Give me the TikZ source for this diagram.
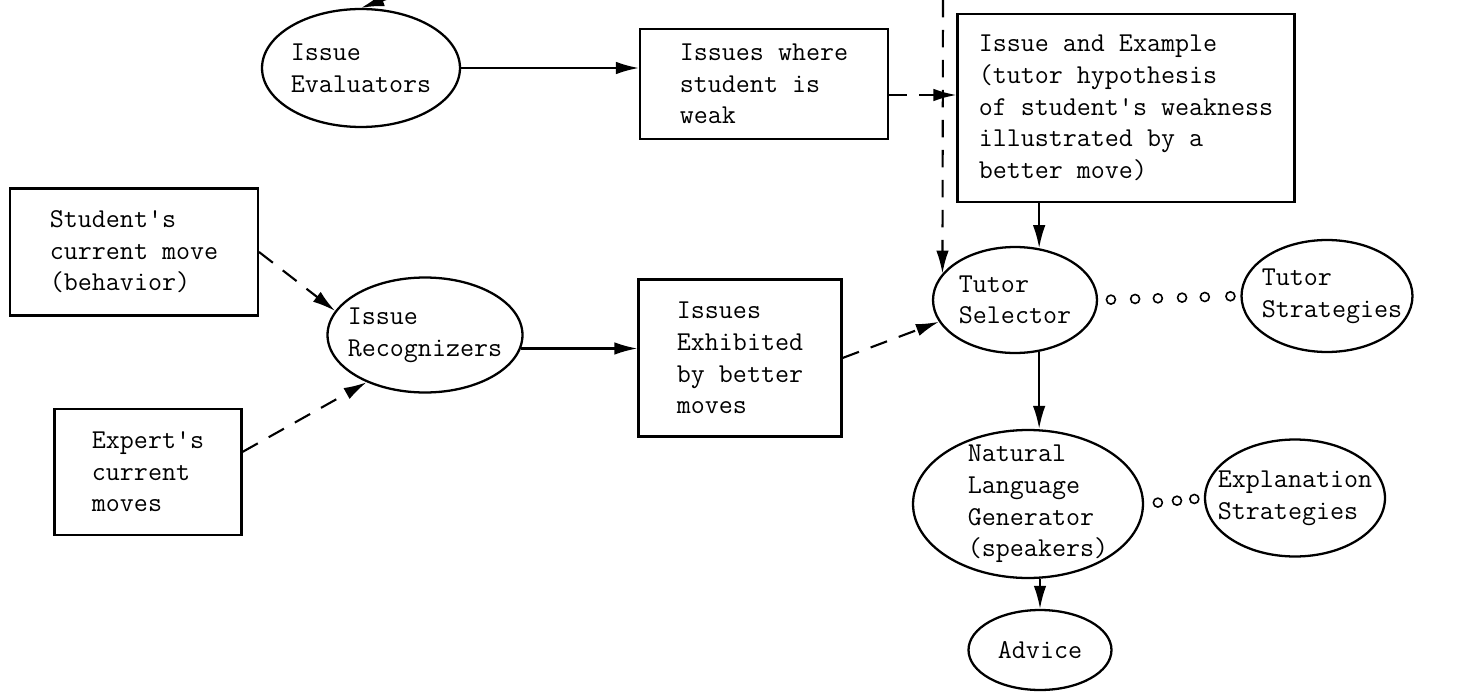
\documentclass[tikz,border=0pt]{standalone}
\usepackage{fontspec}
\usepackage{tikz}
\usetikzlibrary{shapes.geometric}
\usetikzlibrary{arrows.meta}

\tikzset{
  >={Latex[length=4.6mm,width=2.5mm]},
  issuebox/.style={draw, rectangle, line width=1.2pt, align=left, font=\ttfamily\fontsize{15.5}{18}\selectfont},
  procell/.style={draw, ellipse, line width=1.3pt},
  celltext/.style={align=left, font=\ttfamily\fontsize{15.5}{18}\selectfont},
  ring/.style={draw, circle, line width=0.9pt, inner sep=0pt, minimum size=1.8mm},
  flow/.style={line width=1.2pt, ->},
  dashflow/.style={line width=1.2pt, ->, dash pattern=on 3.5mm off 2.5mm},
}

\begin{document}
\begin{tikzpicture}[x=0.02cm, y=-0.02cm]
\useasboundingbox (0,0) rectangle (1474,696);

% inputs on the left
\node[issuebox, minimum width=4.96cm, minimum height=2.54cm] (stud) at (134,252) {Student's\\current move\\(behavior)};
\node[issuebox, minimum width=3.74cm, minimum height=2.52cm] (expt) at (148,472) {Expert's\\current\\moves};

% issue modules
\node[procell, minimum width=3.96cm, minimum height=2.36cm, label={[celltext]center:{Issue\\Evaluators}}] (eval) at (361,68) {};
\node[procell, minimum width=3.9cm, minimum height=2.3cm, label={[celltext]center:{Issue\\Recognizers}}] (recog) at (425,335) {};

\node[issuebox, minimum width=4.96cm, minimum height=2.2cm] (weak) at (764,84) {Issues where\\student is\\weak};
\node[issuebox, minimum width=4.06cm, minimum height=3.14cm] (exhib) at (740,358) {Issues\\Exhibited\\by better\\moves};
\node[issuebox, minimum width=6.74cm, minimum height=3.76cm] (ex) at (1126,108) {Issue and Example\\(tutor hypothesis\\of student's weakness\\illustrated by a\\better move)};

% tutor side
\node[procell, minimum width=3.28cm, minimum height=2.12cm, label={[celltext]center:{Tutor\\Selector}}] (sel) at (1015,300) {};
\node[procell, minimum width=3.42cm, minimum height=2.24cm, label={[celltext, xshift=0.1cm]center:{Tutor\\Strategies}}] (tstrat) at (1327,296) {};
\node[procell, minimum width=4.6cm, minimum height=2.96cm, label={[celltext, xshift=0.2cm]center:{Natural\\Language\\Generator\\(speakers)}}] (nlg) at (1028,504) {};
\node[procell, minimum width=3.6cm, minimum height=2.34cm, label={[celltext]center:{Explanation\\Strategies}}] (xstrat) at (1295,498) {};
\node[procell, minimum width=2.86cm, minimum height=1.6cm, label={[celltext]center:{Advice}}] (adv) at (1040,650) {};

\coordinate (evalin) at (392,-3);
\coordinate (dashtop) at (943,0);

\draw[flow] (evalin) -- (eval.north);
\draw[flow] (eval.east) -- (eval.east -| weak.west);
\draw[dashflow] ([yshift=-0.22cm]weak.east) -- ([yshift=-0.22cm]weak.east -| ex.west);
\draw[dashflow] (dashtop) -- (sel.160);
\draw[flow] (ex.south -| sel.65) -- (sel.65);
\draw[dashflow] (stud.east) -- (recog.165);
\draw[dashflow] (expt.12) -- (recog.219);
\draw[flow] (recog.-8) -- (recog.-8 -| exhib.west);
\draw[dashflow] (exhib.east) -- (sel.196);
\draw[flow] (sel.-65) -- (sel.-65 |- nlg.north);
\draw[flow] (adv.north |- nlg.south) -- (adv.north);

% strategy links
\foreach \p in {0.09,0.26,0.42,0.59,0.75,0.93}
  \path (sel.east) -- (tstrat.west) node[ring, pos=\p] {};
\foreach \p in {0.23,0.55,0.84}
  \path (nlg.east) -- (xstrat.west) node[ring, pos=\p] {};
\end{tikzpicture}
\end{document}
